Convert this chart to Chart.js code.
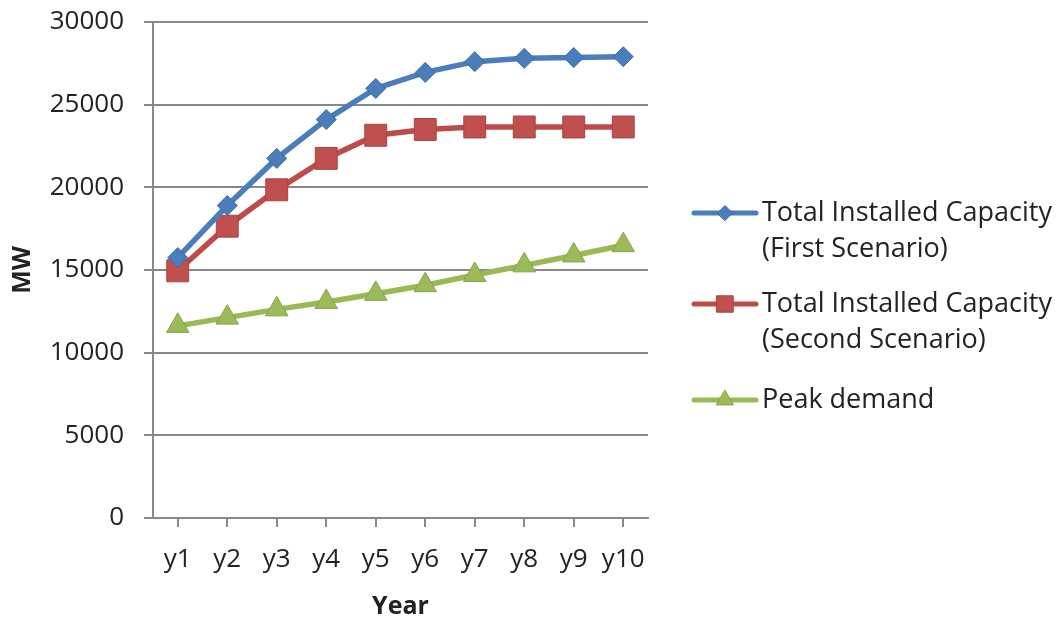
<!DOCTYPE html>
<html>
<head>
<meta charset="utf-8">
<script src="https://cdn.jsdelivr.net/npm/chart.js@4.4.1/dist/chart.umd.min.js"></script>
<style>
  html, body { margin: 0; padding: 0; background: #fff; }
  #wrap { width: 1060px; height: 619px; position: relative; }
</style>
</head>
<body>
<div id="wrap"><canvas id="chart"></canvas></div>
<script>
  const years = ['y1', 'y2', 'y3', 'y4', 'y5', 'y6', 'y7', 'y8', 'y9', 'y10'];
  const firstScenario = [15750, 18900, 21750, 24100, 25980, 26950, 27600, 27800, 27850, 27900];
  const secondScenario = [14950, 17650, 19850, 21750, 23150, 23500, 23650, 23650, 23650, 23650];
  const peakDemand = [11620, 12120, 12620, 13060, 13560, 14080, 14700, 15280, 15880, 16500];
  const seriesNames = [
    ['Total Installed Capacity', '(First Scenario)'],
    ['Total Installed Capacity', '(Second Scenario)'],
    ['Peak demand']
  ];
  const yTicks = [0, 5000, 10000, 15000, 20000, 25000, 30000];

  const FONT = '"Open Sans", "DejaVu Sans", sans-serif';
  const TEXT = '#222222';
  const GRID = '#888888';

  // legend drawn beside the plot, each symbol a short line with its marker
  const sideLegend = {
    id: 'sideLegend',
    afterDraw(chart) {
      const ctx = chart.ctx;
      const rows = [213, 304, 400];
      ctx.save();
      ctx.font = '27px ' + FONT;
      ctx.textBaseline = 'middle';
      chart.data.datasets.forEach((ds, i) => {
        const y = rows[i];
        ctx.strokeStyle = ds.borderColor;
        ctx.lineWidth = 5;
        ctx.lineCap = 'round';
        ctx.beginPath();
        ctx.moveTo(694, y);
        ctx.lineTo(756, y);
        ctx.stroke();
        ctx.fillStyle = ds.pointBackgroundColor;
        ctx.strokeStyle = ds.pointBorderColor;
        ctx.lineWidth = 1;
        Chart.helpers.drawPoint(ctx, {
          pointStyle: ds.pointStyle,
          rotation: 0,
          radius: ds.pointRadius * 0.75,
          borderWidth: 1
        }, 725, y);
        ctx.fillStyle = TEXT;
        seriesNames[i].forEach((line, j) => {
          ctx.fillText(line, 762, y + j * 36);
        });
      });
      ctx.restore();
    }
  };

  new Chart(document.getElementById('chart'), {
    type: 'line',
    data: {
      labels: years,
      datasets: [
        {
          label: seriesNames[0].join(' '),
          data: firstScenario,
          borderColor: '#4a7ebb',
          borderWidth: 5.5,
          pointStyle: 'rectRot',
          pointRadius: 10,
          pointBackgroundColor: '#4a7ebb',
          pointBorderColor: '#3a6aa6',
          pointBorderWidth: 1,
          tension: 0
        },
        {
          label: seriesNames[1].join(' '),
          data: secondScenario,
          borderColor: '#be4b48',
          borderWidth: 5.5,
          pointStyle: 'rect',
          pointRadius: 15.5,
          pointBackgroundColor: '#c0504d',
          pointBorderColor: '#a84542',
          pointBorderWidth: 1,
          tension: 0
        },
        {
          label: seriesNames[2].join(' '),
          data: peakDemand,
          borderColor: '#98b954',
          borderWidth: 5.5,
          pointStyle: 'triangle',
          pointRadius: 13,
          pointBackgroundColor: '#9bbb59',
          pointBorderColor: '#86a34a',
          pointBorderWidth: 1,
          tension: 0
        }
      ]
    },
    options: {
      responsive: true,
      maintainAspectRatio: false,
      animation: false,
      layout: { padding: { left: 0, right: 412, top: 22, bottom: 0 } },
      plugins: {
        legend: { display: false },
        tooltip: { enabled: false }
      },
      scales: {
        x: {
          offset: true,
          afterFit: (scale) => { scale.height = 101; },
          grid: {
            display: true,
            drawOnChartArea: false,
            color: GRID,
            lineWidth: 2,
            tickLength: 9,
            tickColor: GRID
          },
          border: { color: GRID, width: 2 },
          ticks: {
            color: TEXT,
            font: { family: FONT, size: 26 },
            padding: 17,
            maxRotation: 0,
            autoSkip: false
          },
          title: {
            display: true,
            text: 'Year',
            color: TEXT,
            font: { family: FONT, size: 25, weight: 'bold' },
            padding: { top: 0, bottom: -3 }
          }
        },
        y: {
          min: 0,
          max: 30000,
          afterFit: (scale) => {
            scale.width = 153;
            scale.paddingTop = 0;
            scale.paddingBottom = 0;
          },
          afterBuildTicks: (scale) => { scale.ticks = yTicks.map((v) => ({ value: v })); },
          grid: {
            color: GRID,
            lineWidth: 2,
            tickLength: 9,
            tickColor: GRID
          },
          border: { color: GRID, width: 2 },
          ticks: {
            color: TEXT,
            font: { family: FONT, size: 26 },
            padding: 20,
            callback: (value) => String(value)
          },
          title: {
            display: true,
            text: 'MW',
            color: TEXT,
            font: { family: FONT, size: 25, weight: 'bold' },
            padding: { top: 8, bottom: 0 }
          }
        }
      }
    },
    plugins: [sideLegend]
  });
</script>
</body>
</html>
